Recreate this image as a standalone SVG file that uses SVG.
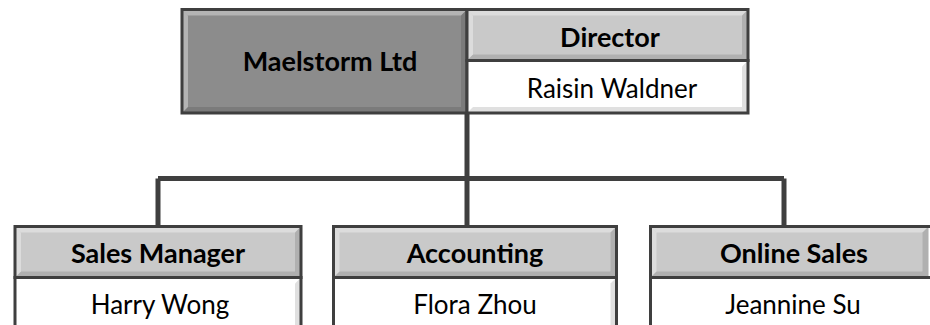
<svg xmlns="http://www.w3.org/2000/svg" width="930" height="325" viewBox="0 0 930 325">
<style>
.hdr{fill:#c9c9c9}
.val{fill:#ffffff}
.main{fill:#8c8c8c}
.edge{fill:none;stroke:#3f3f3f;stroke-width:3}
.hi{fill:#ffffff;fill-opacity:0.35}
.lo{fill:#000000;fill-opacity:0.12}
.conn{fill:none;stroke:#3f3f3f;stroke-width:5}
text{font-family:Lato,"Liberation Sans",sans-serif;font-size:27px;fill:#000;text-anchor:middle}
.b{font-weight:bold}
.r{font-size:26px}
</style>
<rect width="930" height="325" fill="#ffffff"/>
<g id="connectors">
<path class="conn" d="M467 113 V178.5 M158 178.5 H784 M158 178.5 V226 M467 178.5 V226 M784 178.5 V226"/>
</g>
<g id="maelstorm">
<rect class="main" x="182" y="9.5" width="285" height="103.5"/>
<polygon class="hi" points="182,9.5 467,9.5 461,15.5 188,15.5"/>
<polygon class="hi" points="182,9.5 188,15.5 188,107 182,113"/>
<polygon class="lo" points="182,113 188,107 461,107 467,113"/>
<polygon class="lo" points="467,9.5 467,113 461,107 461,15.5"/>
<rect class="edge" x="182" y="9.5" width="285" height="103.5"/>
<text class="b" x="330" y="71">Maelstorm Ltd</text>
</g>
<g id="director">
<rect class="hdr" x="467" y="9.5" width="281" height="51"/>
<polygon class="hi" points="467,9.5 748,9.5 742,15.5 473,15.5"/>
<polygon class="hi" points="467,9.5 473,15.5 473,54.5 467,60.5"/>
<polygon class="lo" points="467,60.5 473,54.5 742,54.5 748,60.5"/>
<polygon class="lo" points="748,9.5 748,60.5 742,54.5 742,15.5"/>
<rect class="edge" x="467" y="9.5" width="281" height="51"/>
<rect class="val" x="467" y="60.5" width="281" height="52.5"/>
<polygon class="lo" points="467,113 473,107 742,107 748,113"/>
<polygon class="lo" points="748,60.5 748,113 742,107 742,66.5"/>
<rect class="edge" x="467" y="60.5" width="281" height="52.5"/>
<text class="b" x="610" y="47">Director</text>
<text class="r" x="612" y="98">Raisin Waldner</text>
</g>
<g id="sales-manager">
<rect class="hdr" x="15" y="226.5" width="286" height="51"/>
<polygon class="hi" points="15,226.5 301,226.5 295,232.5 21,232.5"/>
<polygon class="hi" points="15,226.5 21,232.5 21,271.5 15,277.5"/>
<polygon class="lo" points="15,277.5 21,271.5 295,271.5 301,277.5"/>
<polygon class="lo" points="301,226.5 301,277.5 295,271.5 295,232.5"/>
<rect class="edge" x="15" y="226.5" width="286" height="51"/>
<rect class="val" x="15" y="277.5" width="286" height="60"/>
<polygon class="lo" points="301,277.5 301,337.5 295,331.5 295,283.5"/>
<rect class="edge" x="15" y="277.5" width="286" height="60"/>
<text class="b" x="158" y="263">Sales Manager</text>
<text class="r" x="160" y="314">Harry Wong</text>
</g>
<g id="accounting">
<rect class="hdr" x="333.5" y="226.5" width="283" height="51"/>
<polygon class="hi" points="333.5,226.5 616.5,226.5 610.5,232.5 339.5,232.5"/>
<polygon class="hi" points="333.5,226.5 339.5,232.5 339.5,271.5 333.5,277.5"/>
<polygon class="lo" points="333.5,277.5 339.5,271.5 610.5,271.5 616.5,277.5"/>
<polygon class="lo" points="616.5,226.5 616.5,277.5 610.5,271.5 610.5,232.5"/>
<rect class="edge" x="333.5" y="226.5" width="283" height="51"/>
<rect class="val" x="333.5" y="277.5" width="283" height="60"/>
<polygon class="lo" points="616.5,277.5 616.5,337.5 610.5,331.5 610.5,283.5"/>
<rect class="edge" x="333.5" y="277.5" width="283" height="60"/>
<text class="b" x="475" y="263">Accounting</text>
<text class="r" x="475" y="314">Flora Zhou</text>
</g>
<g id="online-sales">
<rect class="hdr" x="650.5" y="226.5" width="278" height="51"/>
<polygon class="hi" points="650.5,226.5 928.5,226.5 922.5,232.5 656.5,232.5"/>
<polygon class="hi" points="650.5,226.5 656.5,232.5 656.5,271.5 650.5,277.5"/>
<polygon class="lo" points="650.5,277.5 656.5,271.5 922.5,271.5 928.5,277.5"/>
<polygon class="lo" points="928.5,226.5 928.5,277.5 922.5,271.5 922.5,232.5"/>
<rect class="val" x="650.5" y="277.5" width="290" height="60"/>
<path class="edge" d="M935 226.5 H650.5 V337.5 M650.5 277.5 H935"/>
<text class="b" x="794" y="263">Online Sales</text>
<text class="r" x="793" y="314">Jeannine Su</text>
</g>
</svg>
